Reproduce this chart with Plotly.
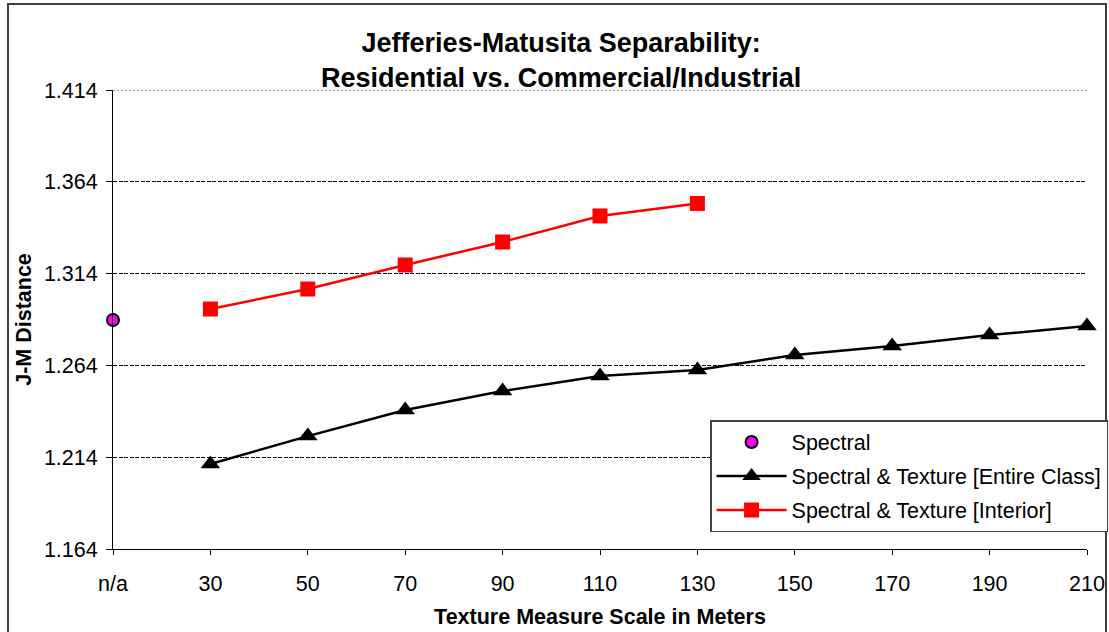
import plotly.graph_objects as go

categories = ["n/a", "30", "50", "70", "90", "110", "130", "150", "170", "190", "210"]
spectral = [1.2887]
entire_class = [1.2103, 1.2255, 1.2397, 1.2500, 1.2582, 1.2615, 1.2697, 1.2746, 1.2805, 1.2854]
interior = [1.2947, 1.3056, 1.3187, 1.3312, 1.3454, 1.3522]
y_ticks = [1.164, 1.214, 1.264, 1.314, 1.364, 1.414]

FONT = "Liberation Sans, Arial, sans-serif"
xpos = list(range(len(categories)))

fig = go.Figure()
fig.add_trace(go.Scatter(
    x=xpos[:1], y=spectral, mode="markers", name="Spectral", legendgroup="a",
    marker=dict(symbol="circle", size=12, color="#FF00FF", line=dict(color="black", width=2)),
    cliponaxis=False))
fig.add_trace(go.Scatter(
    x=xpos[1:1 + len(entire_class)], y=entire_class, mode="lines+markers",
    name="Spectral & Texture [Entire Class]", legendgroup="b",
    line=dict(color="black", width=2.5),
    marker=dict(symbol="triangle-up", size=17, color="black"),
    cliponaxis=False))
fig.add_trace(go.Scatter(
    x=xpos[1:1 + len(interior)], y=interior, mode="lines+markers",
    name="Spectral & Texture [Interior]", legendgroup="c",
    line=dict(color="#FF0000", width=2.5),
    marker=dict(symbol="square", size=15, color="#FF0000"),
    cliponaxis=False))

fig.update_layout(
    width=1109, height=632,
    margin=dict(l=113, r=22, t=90, b=83, autoexpand=False),
    paper_bgcolor="white", plot_bgcolor="white",
    font=dict(family=FONT, size=21, color="black"),
    title=dict(
        text="<b>Jefferies-Matusita Separability:<br>Residential vs. Commercial/Industrial</b>",
        x=0.506, xanchor="center", y=0.918, yanchor="top",
        font=dict(family=FONT, size=27, color="black")),
    xaxis=dict(
        range=[0, 10], tickmode="array", tickvals=xpos, ticktext=categories,
        showgrid=False, zeroline=False, showline=True, linecolor="black", linewidth=1,
        ticks="outside", ticklen=5, tickcolor="black", ticklabelstandoff=10,
        tickfont=dict(family=FONT, size=21.5), automargin=False,
        title=dict(text="<b>Texture Measure Scale in Meters</b>", font=dict(family=FONT, size=21.5), standoff=14)),
    yaxis=dict(
        range=[1.164, 1.414], tickmode="array", tickvals=y_ticks,
        ticktext=[f"{v:.3f}" for v in y_ticks],
        showgrid=True, gridcolor="black", griddash="4px,1.5px", gridwidth=1,
        zeroline=False, showline=True, linecolor="black", linewidth=1,
        ticks="outside", ticklen=6, tickcolor="black", ticklabelstandoff=4,
        tickfont=dict(family=FONT, size=21.5), automargin=False,
        title=dict(text="<b>J-M Distance</b>", font=dict(family=FONT, size=21.5), standoff=6)),
    legend=dict(
        x=0.613, y=0.281, xanchor="left", yanchor="top",
        bgcolor="white", bordercolor="#444444", borderwidth=1.5,
        font=dict(family=FONT, size=21.5), tracegroupgap=3,
        itemwidth=70),
    showlegend=True,
)

# top gridline (drawn grey/dotted in the original)
fig.add_shape(type="line", xref="paper", yref="y", x0=0, x1=1,
              y0=y_ticks[-1], y1=y_ticks[-1],
              line=dict(color="#808080", width=1.5, dash="2px,2px"), layer="below")

fig.add_shape(type="rect", xref="paper", yref="paper",
              x0=-0.1078, x1=1.0195, y0=-0.2, y1=1.1874,
              line=dict(color="#404040", width=2), fillcolor="rgba(0,0,0,0)", layer="below")

fig.write_html("out.html", config={"displayModeBar": False},
               post_script="document.body.style.margin='0';document.body.style.overflow='hidden';")
